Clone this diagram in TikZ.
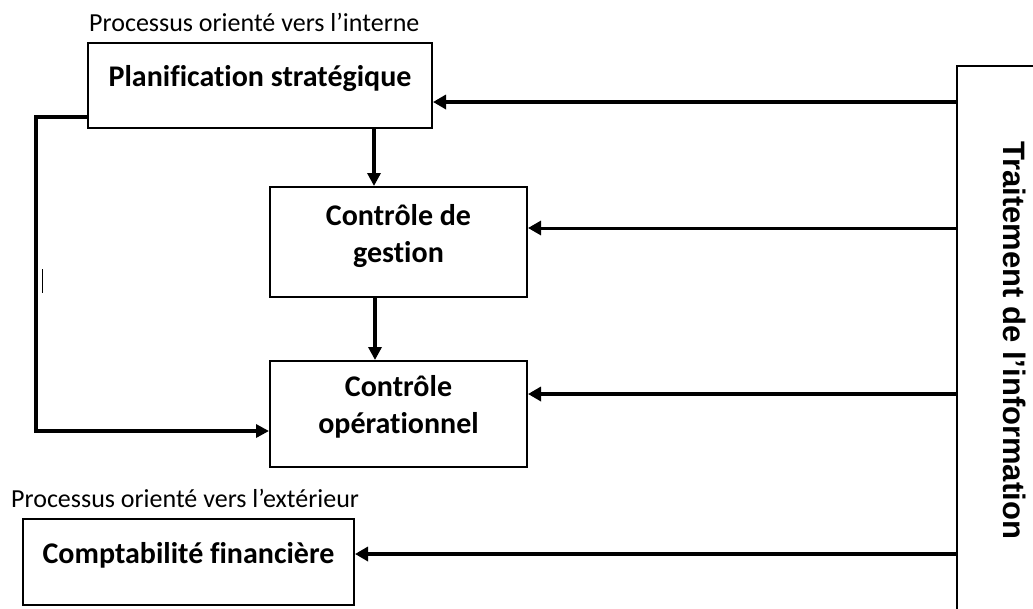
\documentclass[tikz,border=0pt]{standalone}
\usepackage{fontspec}
\setmainfont{Carlito}[Ligatures=NoCommon]
\newfontfamily\arialfont{Liberation Sans}
\usetikzlibrary{arrows.meta}

\tikzset{
  box/.style={draw, line width=2pt, rectangle, inner sep=0pt},
  btxt/.style={font=\fontsize{30}{37}\selectfont\bfseries, align=center, inner sep=0pt},
  note/.style={font=\fontsize{26}{30}\selectfont, inner sep=0pt, anchor=west},
  arr/.style={line width=4pt, -{Triangle[length=13pt,width=13pt]}},
  feed/.style={line width=3.5pt, -{Triangle[length=13pt,width=14pt]}},
}

\begin{document}
\begin{tikzpicture}[x=1pt, y=-1pt]
\useasboundingbox (0,0) rectangle (1033,608);
\clip (0,0) rectangle (1033,608);

% the four management boxes
\node[box, minimum width=344pt, minimum height=85pt] (plan) at (260,85.5) {};
\node[btxt] (plantxt) at ([yshift=7pt]plan.center) {Planification stratégique};

\node[box, minimum width=257pt, minimum height=110pt] (gest) at (398.5,242) {};
\node[btxt] (gesttxt) at ([yshift=6pt]gest.center) {Contrôle de\\gestion};

\node[box, minimum width=257pt, minimum height=106pt] (oper) at (398.5,414) {};
\node[btxt] (opertxt) at ([yshift=7pt]oper.center) {Contrôle\\opérationnel};

\node[box, minimum width=331pt, minimum height=86pt] (compta) at (188.5,562) {};
\node[btxt] (comptatxt) at ([yshift=7pt]compta.center) {Comptabilité financière};

% captions above the two groups
\node[note] (interne) at (89,22) {Processus orienté vers l’interne};
\node[note] (externe) at (11,498) {Processus orienté vers l’extérieur};

% information processing column, running off the page
\node[box, minimum width=90pt, minimum height=560pt] (info) at (1002,346) {};
\node[font=\arialfont\bfseries\fontsize{31}{36}\selectfont, rotate=-90, inner sep=0pt]
  (infotxt) at (1015,340) {Traitement de l’information};

% top-down links
\draw[arr] (374,0 |- plan.south) -- (374,0 |- gest.north);
\draw[arr] (375,0 |- gest.south) -- (375,0 |- oper.north);

% bypass from strategic planning to operational control
\coordinate (bstart) at ([yshift=12pt]plan.south west);
\coordinate (bend) at ([yshift=-17pt]oper.west);
\draw[arr] (bstart) -- (36,0 |- bstart) -- (36,0 |- bend) -- (bend);
\draw[line width=0.8pt] (42,269) -- (42,293);

% feedback from information processing
\coordinate (f1) at ([yshift=-16.5pt]plan.east);
\coordinate (f2) at ([yshift=14pt]gest.east);
\coordinate (f3) at ([yshift=20pt]oper.east);
\coordinate (f4) at ([yshift=8pt]compta.east);
\draw[feed, line width=4pt] (info.west |- f1) -- (f1);
\draw[feed, line width=3pt] (info.west |- f2) -- (f2);
\draw[feed] (info.west |- f3) -- (f3);
\draw[feed, line width=4pt] (info.west |- f4) -- (f4);
\end{tikzpicture}
\end{document}
